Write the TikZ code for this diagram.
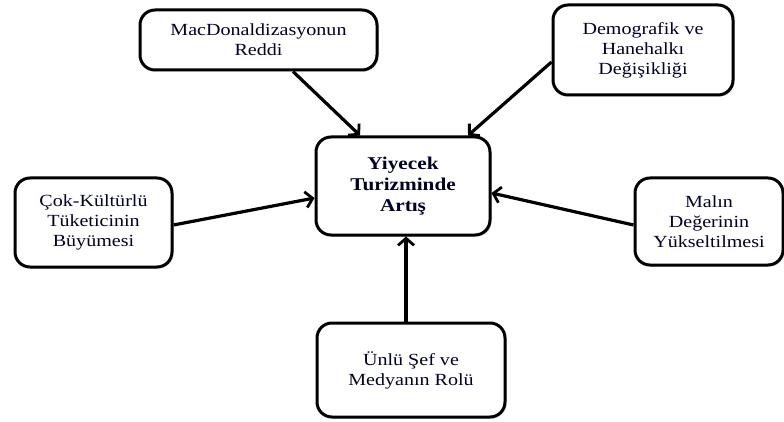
\documentclass[tikz,border=0pt]{standalone}
\usepackage{fontspec}
\setmainfont{Liberation Serif}[FakeStretch=1.18]
\usetikzlibrary{arrows.meta,shadows}
\begin{document}
\begin{tikzpicture}[x=1pt,y=1pt,
  box/.style={draw=black,line width=3pt,rounded corners=15pt,fill=white,
    align=center,inner sep=0pt,font=\fontsize{17}{20}\selectfont,
    text=black!85!blue,
    drop shadow={shadow xshift=1.5pt,shadow yshift=-1.5pt,fill=black!30,opacity=0.6}},
  arr/.style={line width=3.2pt,-{Straight Barb[length=7pt,width=16pt,line width=2.8pt]}}]
\useasboundingbox (0,0) rectangle (784,421);
\node[box,minimum width=237pt,minimum height=60pt] (A) at (258.5,381) {MacDonaldizasyonun\\Reddi};
\node[box,minimum width=180pt,minimum height=90pt] (B) at (643,371) {Demografik ve\\Hanehalkı\\Değişikliği};
\node[box,minimum width=174pt,minimum height=98pt,font=\bfseries\fontsize{18}{21}\selectfont] (C) at (403,235) {Yiyecek\\Turizminde\\Artış};
\node[box,minimum width=157pt,minimum height=89pt] (D) at (93.5,198.5) {Çok-Kültürlü\\Tüketicinin\\Büyümesi};
\node[box,minimum width=148pt,minimum height=87pt] (E) at (709,199.5) {Malın\\Değerinin\\Yükseltilmesi};
\node[box,minimum width=188pt,minimum height=94pt] (F) at (411,51) {Ünlü Şef ve\\Medyanın Rolü};
\draw[arr] ([xshift=34.5pt]A.south) -- ([xshift=-43pt]C.north);
\draw[arr] ([yshift=-12pt]B.west) -- ([xshift=65pt]C.north);
\draw[arr] ([yshift=-2.5pt]D.east) -- ([yshift=-12pt]C.west);
\draw[arr] ([yshift=-3.5pt]E.west) -- ([yshift=-7pt]C.east);
\draw[arr] ([xshift=-5pt]F.north) -- ([xshift=3pt]C.south);
\end{tikzpicture}
\end{document}
